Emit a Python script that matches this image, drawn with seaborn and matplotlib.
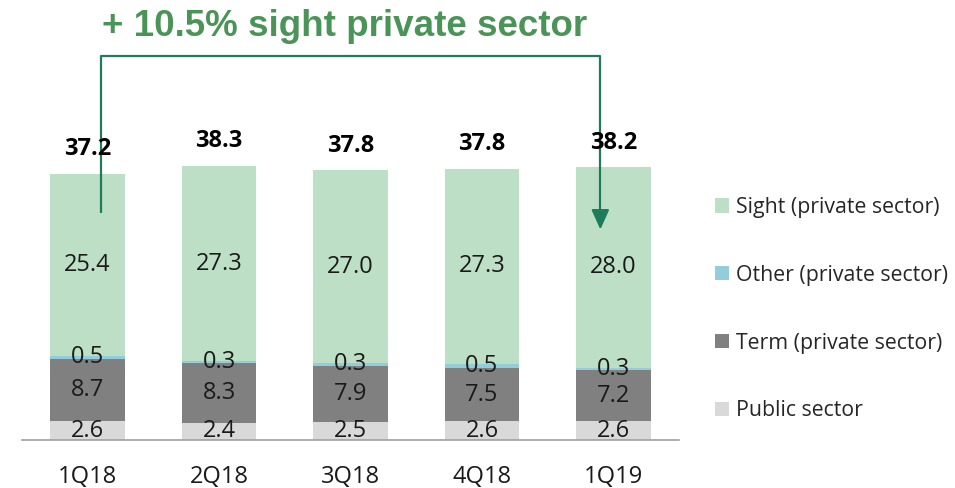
import matplotlib
matplotlib.use("Agg")
import matplotlib.pyplot as plt
import seaborn as sns
import numpy as np
import pandas as pd
from matplotlib.patches import Patch

quarters = ["1Q18", "2Q18", "3Q18", "4Q18", "1Q19"]
public = [2.6, 2.4, 2.5, 2.6, 2.6]
term = [8.7, 8.3, 7.9, 7.5, 7.2]
other = [0.5, 0.3, 0.3, 0.5, 0.3]
sight = [25.4, 27.3, 27.0, 27.3, 28.0]
totals = [37.2, 38.3, 37.8, 37.8, 38.2]
series_names = ["Public sector", "Term (private sector)", "Other (private sector)", "Sight (private sector)"]
title_text = "+ 10.5% sight private sector"

colors = {
    "Public sector": "#D9D9D9",
    "Term (private sector)": "#808080",
    "Other (private sector)": "#92CDDC",
    "Sight (private sector)": "#BDDFC5",
}

sns.set_theme(style="white")
plt.rcParams["font.family"] = ["Open Sans", "DejaVu Sans"]

fig = plt.figure(figsize=(9.55, 4.88), dpi=100)
ax = fig.add_axes([21.75 / 955, 1 - 440 / 488, 657.5 / 955, 440 / 488])

layers = [public, term, other, sight]
cum = np.cumsum(np.array(layers), axis=0)
bottoms = np.vstack([np.zeros(len(quarters)), cum[:-1]])

# draw from top cumulative downward so lower layers overlay
for i in range(len(layers) - 1, -1, -1):
    df = pd.DataFrame({"q": quarters, "v": cum[i]})
    sns.barplot(data=df, x="q", y="v", color=colors[series_names[i]], width=0.57,
                ax=ax, saturation=1, edgecolor="none", linewidth=0)

ax.set_xlim(-0.5, 4.5)
ax.set_ylim(0, 440 / 7.16)

# segment labels
for i, layer in enumerate(layers):
    for j, v in enumerate(layer):
        y = bottoms[i][j] + v / 2
        ax.text(j, y, f"{v:.1f}", ha="center", va="center", fontsize=17, color="#1a1a1a")

# totals
for j, t in enumerate(totals):
    ax.annotate(f"{t:.1f}", (j, cum[-1][j]), xytext=(0, 17.5), textcoords="offset points",
                ha="center", va="center", fontsize=17, fontweight="bold", color="black",
                annotation_clip=False)

# axes styling
for s in ["left", "right", "top"]:
    ax.spines[s].set_visible(False)
ax.spines["bottom"].set_color("#A0A0A0")
ax.spines["bottom"].set_linewidth(1.2)
ax.set_yticks([])
ax.set_xlabel("")
ax.set_ylabel("")
ax.tick_params(axis="x", which="major", length=0, pad=18, labelsize=17, labelcolor="#1a1a1a")
ax.set_xticks(np.arange(0.5, len(quarters) - 1, 1.0), minor=True)
ax.tick_params(axis="x", which="minor", length=6, width=1.2, color="#A0A0A0", direction="out")

# annotation arrow
arrow_color = "#1E7B5C"
x_left, x_right = 0.1, 3.9
y_top = 53.6
ax.plot([x_left, x_left, x_right, x_right], [31.7, y_top, y_top, 31.2],
        color=arrow_color, lw=1.6, solid_capstyle="butt", clip_on=False)
ax.annotate("", xy=(x_right, 29.4), xytext=(x_right, 31.6),
            arrowprops=dict(arrowstyle="-|>,head_width=0.45,head_length=1.0",
                            color=arrow_color, lw=1.6, shrinkA=0, shrinkB=0),
            annotation_clip=False)

fig.text(345 / 955, 1 - 27 / 488, title_text, ha="center", va="center",
         fontsize=26.5, fontweight="bold", color="#4A9457", family=["Liberation Sans", "DejaVu Sans"])

# legend
handles = [Patch(facecolor=colors[n], edgecolor="none") for n in reversed(series_names)]
labels = list(reversed(series_names))
fig.legend(handles, labels, loc="upper left", bbox_to_anchor=(715 / 955, 1 - 197 / 488),
           frameon=False, fontsize=15.3, handlelength=0.65, handleheight=0.65,
           handletextpad=0.35, labelspacing=2.2, borderpad=0, borderaxespad=0)

fig.savefig("out.png", dpi=100)
